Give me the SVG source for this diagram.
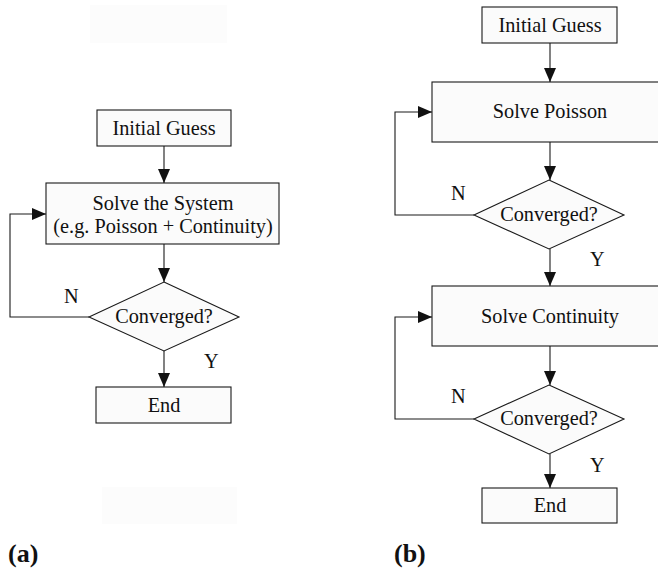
<svg xmlns="http://www.w3.org/2000/svg" width="658" height="570" viewBox="0 0 658 570">
  <style>
    .box { fill: #fbfbfb; stroke: #1a1a1a; stroke-width: 1.1; }
    .txt { font-family: "Liberation Serif", "Times New Roman", serif; font-size: 20.3px; fill: #111; text-anchor: middle; }
    .lbl { font-family: "Liberation Serif", "Times New Roman", serif; font-size: 20.3px; fill: #111; }
    .cap { font-family: "Liberation Serif", "Times New Roman", serif; font-size: 26px; font-weight: bold; fill: #111; }
    .wire { fill: none; stroke: #1a1a1a; stroke-width: 1.1; }
    .faint { fill: #fcfcfc; stroke: none; }
  </style>
  <defs>
    <marker id="arrowL" viewBox="0 0 14 12" refX="14" refY="6" markerWidth="14" markerHeight="12" markerUnits="userSpaceOnUse" orient="auto">
      <path d="M0,0 L14,6 L0,12 Z" fill="#111"/>
    </marker>
  </defs>

  <rect width="658" height="570" fill="#ffffff"/>
  <rect class="faint" x="90" y="5" width="137" height="38"/>
  <rect class="faint" x="102" y="487" width="135" height="37"/>

  <!-- connectors -->
  <g id="connectors">
    <!-- panel (a) -->
    <line class="wire" x1="164" y1="146" x2="164" y2="183" marker-end="url(#arrowL)"/>
    <line class="wire" x1="164" y1="244" x2="164" y2="282" marker-end="url(#arrowL)"/>
    <polyline class="wire" points="89,317 10,317 10,214 46,214" marker-end="url(#arrowL)"/>
    <line class="wire" x1="164" y1="351" x2="164" y2="387" marker-end="url(#arrowL)"/>
    <!-- panel (b) -->
    <line class="wire" x1="550" y1="43" x2="550" y2="82" marker-end="url(#arrowL)"/>
    <line class="wire" x1="550" y1="142" x2="550" y2="180" marker-end="url(#arrowL)"/>
    <polyline class="wire" points="474,215 395,215 395,112 432,112" marker-end="url(#arrowL)"/>
    <line class="wire" x1="550" y1="249" x2="550" y2="286" marker-end="url(#arrowL)"/>
    <line class="wire" x1="550" y1="346" x2="550" y2="385" marker-end="url(#arrowL)"/>
    <polyline class="wire" points="474,419 395,419 395,317 432,317" marker-end="url(#arrowL)"/>
    <line class="wire" x1="550" y1="454" x2="550" y2="488" marker-end="url(#arrowL)"/>
  </g>

  <!-- panel (a) nodes -->
  <g id="a-initial">
    <rect class="box" x="97" y="110" width="134" height="36"/>
    <text class="txt" x="164" y="135">Initial Guess</text>
  </g>
  <g id="a-solve">
    <rect class="box" x="46" y="183" width="233" height="61"/>
    <text class="txt" x="163" y="210">Solve the System</text>
    <text class="txt" x="163" y="233">(e.g. Poisson + Continuity)</text>
  </g>
  <g id="a-converged">
    <polygon class="box" points="164,282 239,317 164,351 89,317"/>
    <text class="txt" x="164" y="323">Converged?</text>
    <text class="lbl" x="64" y="303">N</text>
    <text class="lbl" x="204" y="368">Y</text>
  </g>
  <g id="a-end">
    <rect class="box" x="96" y="387" width="135" height="36"/>
    <text class="txt" x="164" y="412">End</text>
  </g>
  <text class="cap" x="8" y="562">(a)</text>

  <!-- panel (b) nodes -->
  <g id="b-initial">
    <rect class="box" x="482" y="7" width="135" height="36"/>
    <text class="txt" x="550" y="32">Initial Guess</text>
  </g>
  <g id="b-poisson">
    <rect class="box" x="432" y="82" width="236" height="60"/>
    <text class="txt" x="550" y="118">Solve Poisson</text>
  </g>
  <g id="b-converged1">
    <polygon class="box" points="549,180 624,215 549,249 474,215"/>
    <text class="txt" x="549" y="221">Converged?</text>
    <text class="lbl" x="451" y="200">N</text>
    <text class="lbl" x="590" y="266">Y</text>
  </g>
  <g id="b-continuity">
    <rect class="box" x="432" y="286" width="236" height="60"/>
    <text class="txt" x="550" y="323">Solve Continuity</text>
  </g>
  <g id="b-converged2">
    <polygon class="box" points="549,385 624,419 549,454 474,419"/>
    <text class="txt" x="549" y="425">Converged?</text>
    <text class="lbl" x="451" y="403">N</text>
    <text class="lbl" x="590" y="472">Y</text>
  </g>
  <g id="b-end">
    <rect class="box" x="482" y="488" width="135" height="35"/>
    <text class="txt" x="550" y="512">End</text>
  </g>
  <text class="cap" x="394" y="562">(b)</text>
</svg>
